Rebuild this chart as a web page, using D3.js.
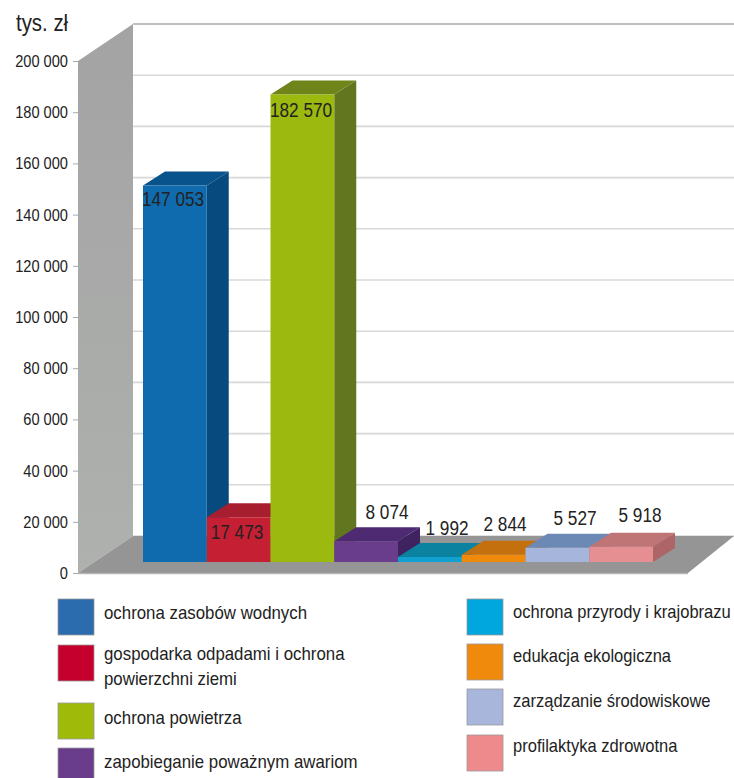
<!DOCTYPE html>
<html lang="pl"><head><meta charset="utf-8">
<script src="https://cdnjs.cloudflare.com/ajax/libs/d3/7.8.5/d3.min.js"></script>
<style>html,body{margin:0;padding:0;background:#fff;overflow:hidden}svg{display:block}
text{font-family:"Liberation Sans",sans-serif;fill:#222}</style>
</head><body><div id="c"></div>
<script>
const categories=["ochrona zasobów wodnych","gospodarka odpadami i ochrona powierzchni ziemi","ochrona powietrza","zapobieganie poważnym awariom","ochrona przyrody i krajobrazu","edukacja ekologiczna","zarządzanie środowiskowe","profilaktyka zdrowotna"];
const values=[147053,17473,182570,8074,1992,2844,5527,5918];
const valueLabels=["147 053","17 473","182 570","8 074","1 992","2 844","5 527","5 918"];
const frontColors=["#0f6aae","#c51f33","#9bb90f","#6a3c8c","#12a0d0","#ef8a0c","#a5b5dc","#e58f92"];
const topColors=["#08538c","#a71f2f","#6f8419","#4d2a72","#0b83a0","#c4700f","#6c88b5","#bf7476"];
const sideColors=["#074a7e","#8f1a28","#62751f","#3f2360","#0a6f8a","#a85f10","#5f7aa6","#ad6567"];
const swatchColors=["#2a6cae","#c5002d","#a0ba0a","#693c8c","#00a6de","#f08a0c","#a9b6dc","#ee8a8c"];
const ticks=d3.range(0,200001,20000);
const legendLines=[["ochrona zasobów wodnych"],["gospodarka odpadami i ochrona","powierzchni ziemi"],["ochrona powietrza"],["zapobieganie poważnym awariom"],["ochrona przyrody i krajobrazu"],["edukacja ekologiczna"],["zarządzanie środowiskowe"],["profilaktyka zdrowotna"]];
const W=734,H=778;
const svg=d3.select("#c").append("svg").attr("width",W).attr("height",H);
const narrow=(sel,f)=>sel.each(function(){
  const n=this.getComputedTextLength();
  d3.select(this).attr("textLength",n*f).attr("lengthAdjust","spacingAndGlyphs");
});
const y=d3.scaleLinear().domain([0,200000]).range([573,61]);
const dep=[55,-37];
const x=d3.scaleBand().domain(categories).range([143,653]).padding(0);
const base=-11,barD=[22,-14];
const defs=svg.append("defs");
const g1=defs.append("linearGradient").attr("id","wall").attr("x1",0).attr("x2",0).attr("y1",0).attr("y2",1);
g1.append("stop").attr("offset",0).attr("stop-color","#a3a3a3");
g1.append("stop").attr("offset",1).attr("stop-color","#aeb1ae");
const poly=(pts,f)=>svg.append("polygon").attr("points",pts.map(p=>p.join(",")).join(" ")).attr("fill",f);
poly([[78,y(200000)],[78+dep[0],y(200000)+dep[1]],[78+dep[0],y(0)+dep[1]],[78,y(0)]],"url(#wall)");
svg.append("g").selectAll("line").data(ticks).join("line")
 .attr("x1",78+dep[0]).attr("x2",W).attr("y1",d=>y(d)+dep[1]).attr("y2",d=>y(d)+dep[1])
 .attr("stroke",d=>d===200000?"#c0c0c0":"#d8d8d8").attr("stroke-width",d=>d===200000?1.8:1.6);
poly([[78,y(0)],[78+dep[0],y(0)+dep[1]],[734,y(0)+dep[1]],[688,y(0)]],"#949594");
svg.append("line").attr("x1",78).attr("x2",688).attr("y1",y(0)+.5).attr("y2",y(0)+.5).attr("stroke","#b5b5b5").attr("stroke-width",1.5);
const axis=d3.axisLeft(y).tickValues(ticks).tickSize(5).tickPadding(5).tickFormat(d=>d3.format(",")(d).replace(/,/g," "));
const ag=svg.append("g").attr("transform","translate(78,0)").call(axis);
ag.select(".domain").remove();
ag.selectAll("line").attr("stroke","#aaa");
ag.selectAll("text").attr("font-size",17).attr("fill","#222").style("font-family",'"Liberation Sans",sans-serif').call(narrow,.86);
svg.append("text").attr("x",16).attr("y",31).attr("font-size",24).text("tys. zł").call(narrow,.85);
categories.forEach((c,i)=>{
 const x0=x(c),x1=x0+x.bandwidth(),yb=y(0)+base,yt=y(values[i])+base;
 poly([[x1,yt],[x1+barD[0],yt+barD[1]],[x1+barD[0],yb+barD[1]],[x1,yb]],sideColors[i]);
 poly([[x0,yt],[x0+barD[0],yt+barD[1]],[x1+barD[0],yt+barD[1]],[x1,yt]],topColors[i]);
 poly([[x0,yt],[x1,yt],[x1,yb],[x0,yb]],frontColors[i]);
});
const lx=[173,237,301,387,447,505,575,640],ly=[206,539,117,519,535,531,525,522];
values.forEach((v,i)=>svg.append("text").attr("x",lx[i]).attr("y",ly[i]).attr("text-anchor","middle").attr("font-size",20).attr("fill","#111").text(valueLabels[i]).call(narrow,.86));
const sw=[[58,599],[58,645],[58,703],[58,748],[467,599],[467,644],[467,689],[467,735]];
const tx=[[104,619],[104,660],[104,724],[104,768],[513,618],[513,662],[513,707],[513,752]];
categories.forEach((c,i)=>{
 svg.append("rect").attr("x",sw[i][0]).attr("y",sw[i][1]).attr("width",36).attr("height",36).attr("fill",swatchColors[i]).attr("stroke","#999").attr("stroke-width",.8);
 legendLines[i].forEach((l,j)=>svg.append("text").attr("x",tx[i][0]).attr("y",tx[i][1]+j*25).attr("font-size",19).attr("fill","#2a2a2a").text(l).call(narrow,i<4?.886:.87));
});
</script></body></html>
